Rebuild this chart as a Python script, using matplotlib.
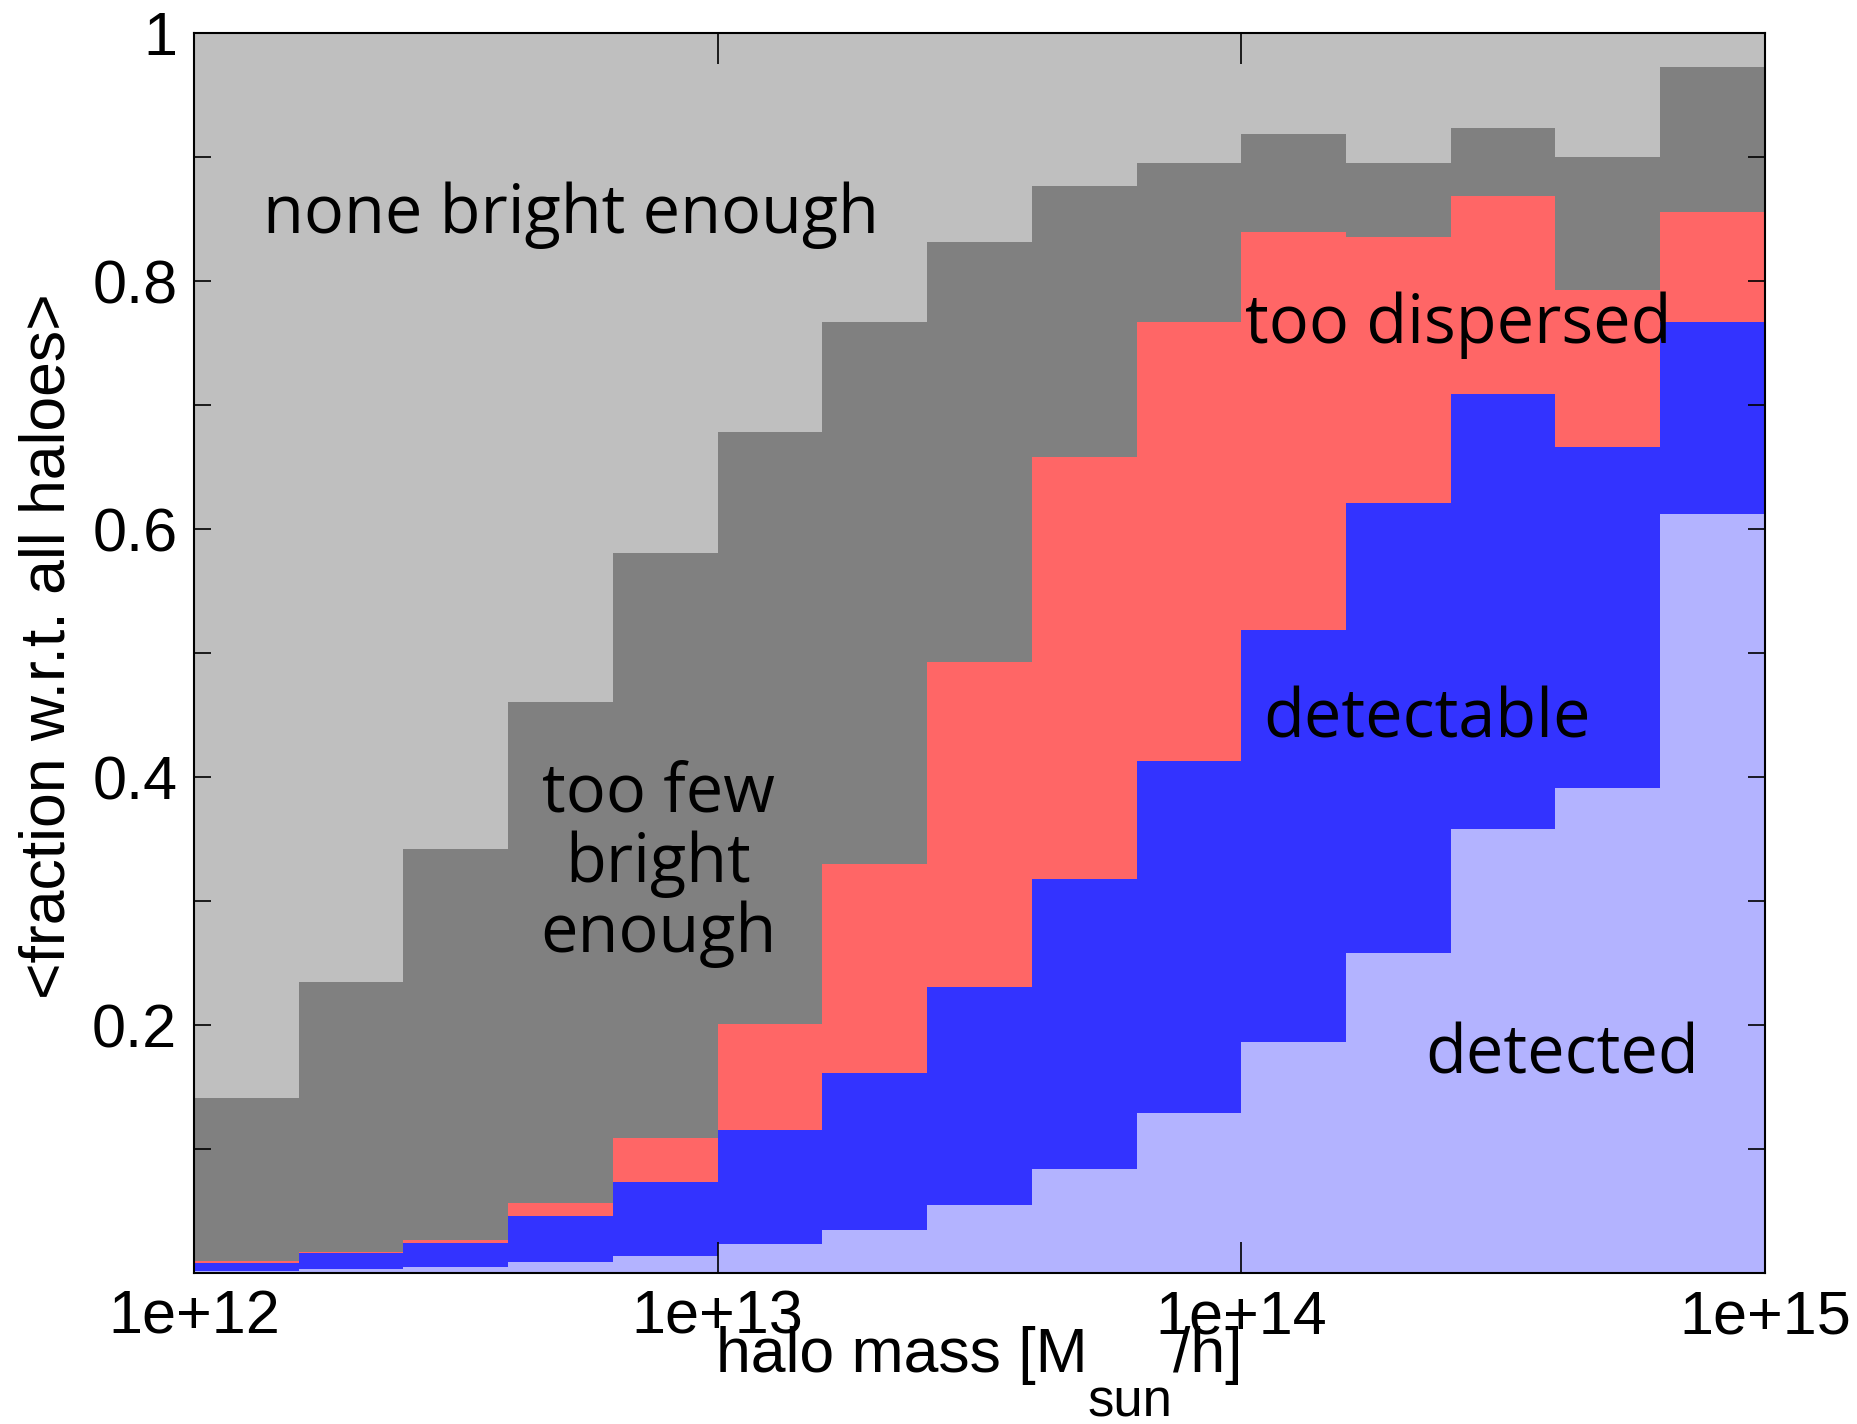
import numpy as np
import matplotlib
matplotlib.use('Agg')
import matplotlib.pyplot as plt

plt.rcParams['font.family'] = ['Liberation Sans', 'DejaVu Sans']

# 15 log-mass bins from 1e12 to 1e15 (0.2 dex each)
log_edges = np.linspace(12, 15, 16)
mass_edges = 10 ** log_edges

# fraction of haloes in each class, per bin
detected = [0.0015, 0.003, 0.0045, 0.009, 0.014, 0.0235, 0.035, 0.055,
            0.084, 0.129, 0.186, 0.258, 0.358, 0.391, 0.612]
detectable = [0.007, 0.0134, 0.0201, 0.0368, 0.0598, 0.0917, 0.126, 0.1754,
              0.234, 0.284, 0.333, 0.3635, 0.351, 0.275, 0.155]
too_dispersed = [0.001, 0.0004, 0.0019, 0.0109, 0.035, 0.0861, 0.169, 0.2626,
                 0.3405, 0.354, 0.321, 0.2145, 0.160, 0.127, 0.089]
too_few = [0.1318, 0.2184, 0.3154, 0.4041, 0.4719, 0.4775, 0.4372, 0.339,
           0.2185, 0.1286, 0.0789, 0.0592, 0.0547, 0.1077, 0.1166]
none_bright = list(1 - np.sum([detected, detectable, too_dispersed, too_few], axis=0))

layers = [detected, detectable, too_dispersed, too_few, none_bright]
colors = ['#b3b3ff', '#3333ff', '#ff6666', '#808080', '#bfbfbf']

fig = plt.figure(figsize=(18.58, 14.24), dpi=100)
ax = fig.add_axes([0.1044, 0.106, 0.8455, 0.8705])

bottom = np.zeros(15)
for vals, c in zip(layers, colors):
    top = bottom + np.array(vals)
    ax.stairs(top, mass_edges, baseline=bottom, fill=True, color=c, lw=0)
    bottom = top

ax.set_xscale('log')
ax.set_xlim(1e12, 1e15)
ax.set_ylim(0, 1)

ax.set_xticks([1e12, 1e13, 1e14, 1e15])
ax.set_xticklabels(['1e+12', '1e+13', '1e+14', '1e+15'])
ax.xaxis.set_minor_locator(matplotlib.ticker.NullLocator())
yt = np.round(np.arange(0.1, 1.01, 0.1), 1)
ax.set_yticks(yt)
ax.set_yticklabels(['' if (round(v * 10) % 2) else ('1' if v == 1 else f'{v:.1f}') for v in yt])

ax.tick_params(axis='both', direction='in', top=True, right=True,
               labelsize=44, width=1.2)
ax.tick_params(axis='x', length=22, pad=12)
ax.tick_params(axis='y', length=12, pad=12)
for s in ax.spines.values():
    s.set_linewidth(1.5)
ax.set_axisbelow(False)

ann = dict(family=['Open Sans', 'DejaVu Sans'], fontsize=48, ha='center', va='center')
ax.text(5.24e12, 0.853, 'none bright enough', **ann)
ax.text(7.7e12, 0.33, 'too few\nbright\nenough', linespacing=1.05, **ann)
ax.text(2.6e14, 0.765, 'too dispersed', **ann)
ax.text(2.26e14, 0.446, 'detectable', **ann)
ax.text(4.1e14, 0.175, 'detected', **ann)

# x label with a large, low subscript (built from three pieces)
r = fig.canvas.get_renderer()
W, H = fig.bbox.width, fig.bbox.height
yb = 0.0365
t1 = fig.text(0, yb, 'halo mass [M', fontsize=45, va='baseline')
t2 = fig.text(0, yb - 44 / H, 'sun', fontsize=38, va='baseline')
t3 = fig.text(0, yb, '/h]', fontsize=45, va='baseline')
w1 = t1.get_window_extent(r).width
w2 = t2.get_window_extent(r).width
w3 = t3.get_window_extent(r).width
x0 = 0.527 * W - (w1 + w2 + w3) / 2
t1.set_x(x0 / W)
t2.set_x((x0 + w1) / W)
t3.set_x((x0 + w1 + w2) / W)

fig.text(0.026, 0.546, '<fraction w.r.t. all haloes>', fontsize=45,
         rotation=90, ha='center', va='center')

fig.savefig('out.png', dpi=100)
